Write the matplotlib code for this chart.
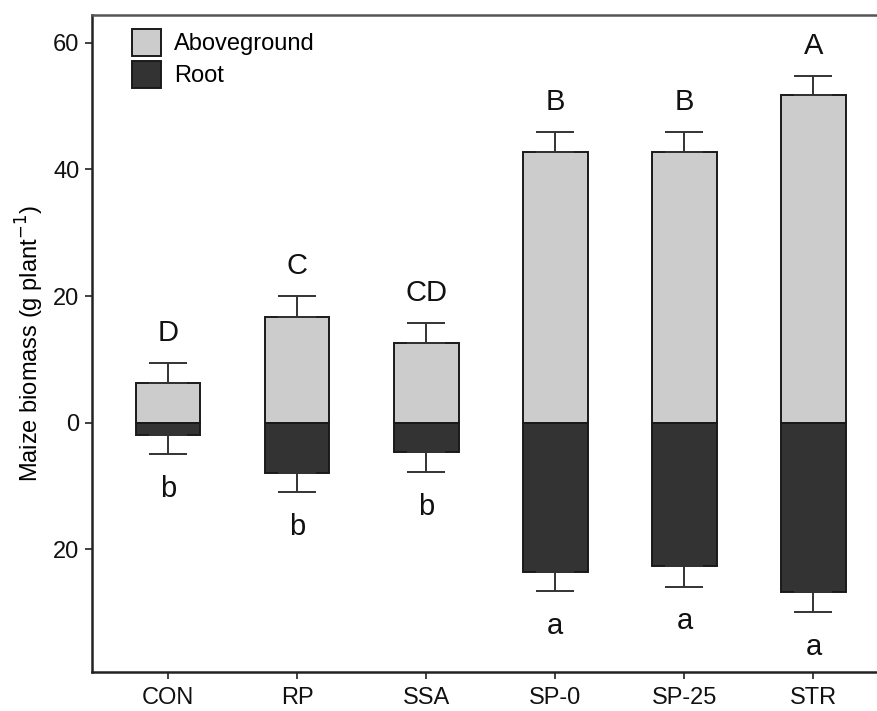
import numpy as np
import matplotlib
matplotlib.use("Agg")
import matplotlib.pyplot as plt
from matplotlib.patches import Patch

plt.rcParams['font.family'] = ['Liberation Sans', 'DejaVu Sans']

# treatments and biomass values (g plant^-1)
groups = ['CON', 'RP', 'SSA', 'SP-0', 'SP-25', 'STR']
above = [6.2, 16.7, 12.6, 42.8, 42.8, 51.7]
above_err = [3.2, 3.3, 3.1, 3.1, 3.1, 3.1]
root = [2.0, 7.9, 4.6, 23.6, 22.7, 26.7]
root_err = [3.0, 3.1, 3.2, 3.0, 3.2, 3.2]
above_letters = ['D', 'C', 'CD', 'B', 'B', 'A']
root_letters = ['b', 'b', 'b', 'a', 'a', 'a']

x = np.arange(len(groups))
above = np.array(above)
root = -np.array(root)

fig = plt.figure(figsize=(8.78, 7.11), dpi=100)
ax = fig.add_axes([0.1048, 0.0549, 0.8952, 0.924])

w = 0.5
ax.bar(x, above, width=w, color='#cccccc', edgecolor='#1a1a1a', linewidth=1.4, zorder=2)
ax.bar(x, root, width=w, color='#333333', edgecolor='#1a1a1a', linewidth=1.4, zorder=2)

zeros = np.zeros(len(x))
ax.errorbar(x, above, yerr=[zeros, above_err], fmt='none', ecolor='#333333',
            elinewidth=1.4, capsize=13.7, capthick=1.4, zorder=3)
ax.errorbar(x, root, yerr=[root_err, zeros], fmt='none', ecolor='#333333',
            elinewidth=1.4, capsize=13.7, capthick=1.4, zorder=3)

for i in range(len(x)):
    ax.text(x[i], above[i] + above_err[i] + 4.7, above_letters[i], ha='center',
            va='center', fontsize=21, color='#111111')
    ax.text(x[i], root[i] - root_err[i] - 5.5, root_letters[i], ha='center',
            va='center', fontsize=21, color='#111111')

ax.set_xlim(-0.59, 5.5)
ax.set_ylim(-39.4, 64.4)
ax.set_xticks(x)
ax.set_xticklabels(groups)
ax.set_yticks([-20, 0, 20, 40, 60])
ax.set_yticklabels(['20', '0', '20', '40', '60'])
ax.tick_params(axis='both', labelsize=17, length=5, width=1.3, color='#333333',
               labelcolor='#111111')
ax.tick_params(axis='y', pad=4)
ax.tick_params(axis='x', pad=6)
ax.set_ylabel('Maize biomass (g plant$^{-1}$)', fontsize=17, labelpad=5)

ax.spines['right'].set_visible(False)
for s in ['left', 'bottom', 'top']:
    ax.spines[s].set_linewidth(1.8)
    ax.spines[s].set_color('#222222')
ax.spines['top'].set_color('#555555')

handles = [Patch(facecolor='#cccccc', edgecolor='#1a1a1a', linewidth=1.4),
           Patch(facecolor='#333333', edgecolor='#1a1a1a', linewidth=1.4)]
ax.legend(handles, ['Aboveground', 'Root'], loc='upper left',
          bbox_to_anchor=(0.051, 0.979), frameon=False, fontsize=17,
          handlelength=1.23, handleheight=1.4, labelspacing=0.2,
          handletextpad=0.55, borderpad=0, borderaxespad=0)

fig.savefig('out.png', dpi=100)
